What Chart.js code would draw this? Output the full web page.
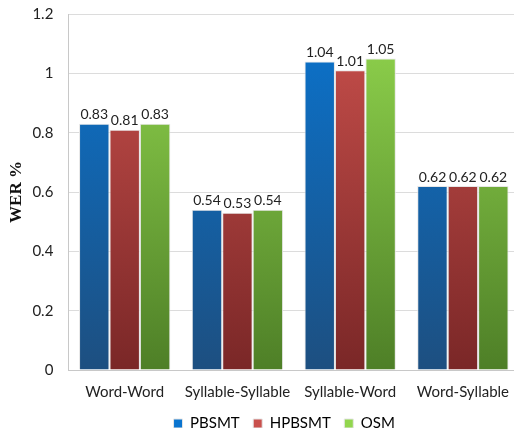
<!DOCTYPE html>
<html>
<head>
<meta charset="utf-8">
<script src="https://cdn.jsdelivr.net/npm/chart.js@4/dist/chart.umd.min.js"></script>
<style>
  html, body { margin: 0; padding: 0; background: #fff; overflow: hidden; }
  #wrap { width: 514px; height: 428px; overflow: hidden; position: relative; }
  #werChart { position: absolute; left: -7px; top: -10px; }
</style>
</head>
<body>
<div id="wrap"><canvas id="werChart" width="529" height="451"></canvas></div>
<script>
const categories = ['Word-Word', 'Syllable-Syllable', 'Syllable-Word', 'Word-Syllable'];
const pbsmt  = [0.83, 0.54, 1.04, 0.62];
const hpbsmt = [0.81, 0.53, 1.01, 0.62];
const osm    = [0.83, 0.54, 1.05, 0.62];

const FONT = 'Lato, "Open Sans", sans-serif';

// top -> bottom gradient stops, like the office-style bars
const shades = {
  blue:  ['#0a74cf', '#1d4f80'],
  red:   ['#c9504c', '#7a2727'],
  green: ['#92d64e', '#4e7f27']
};

function gradient(pair) {
  return (ctx) => {
    const { chart } = ctx;
    const area = chart.chartArea;
    if (!area) return pair[0];
    const g = chart.ctx.createLinearGradient(0, area.top, 0, area.bottom);
    g.addColorStop(0, pair[0]);
    g.addColorStop(1, pair[1]);
    return g;
  };
}

// values written above each bar
const valueLabels = {
  id: 'valueLabels',
  afterDatasetsDraw(chart) {
    const c = chart.ctx;
    c.save();
    c.font = '14px ' + FONT;
    c.fillStyle = '#222';
    c.textAlign = 'center';
    c.textBaseline = 'bottom';
    chart.data.datasets.forEach((ds, i) => {
      chart.getDatasetMeta(i).data.forEach((bar, j) => {
        c.fillText(ds.data[j].toFixed(2).replace(/0$/, '').replace(/\.$/, ''), bar.x, bar.y - 2);
      });
    });
    c.restore();
  }
};

const barOpts = { borderColor: '#e6e6e6', borderWidth: 1, categoryPercentage: 0.81, barPercentage: 1 };

new Chart(document.getElementById('werChart').getContext('2d'), {
  type: 'bar',
  data: {
    labels: categories,
    datasets: [
      { label: 'PBSMT',  data: pbsmt,  backgroundColor: gradient(shades.blue),  ...barOpts },
      { label: 'HPBSMT', data: hpbsmt, backgroundColor: gradient(shades.red),   ...barOpts },
      { label: 'OSM',    data: osm,    backgroundColor: gradient(shades.green), ...barOpts }
    ]
  },
  options: {
    responsive: false,
    animation: false,
    layout: { padding: 0 },
    plugins: {
      legend: {
        position: 'bottom',
        fullSize: false,
        labels: {
          color: '#222',
          font: { family: FONT, size: 15 },
          boxWidth: 9,
          boxHeight: 9,
          padding: 2,
          // blanks after each name stand in for the item gap; the longer tail on
          // the last entry pulls the centred legend a bit left
          generateLabels: (chart) => chart.data.datasets.map((ds, i) => ({
            text: ds.label + (i === 2 ? '     ' : '   '),
            fillStyle: [shades.blue, shades.red, shades.green][i][0],
            strokeStyle: '#e6e6e6',
            lineWidth: 1,
            datasetIndex: i
          }))
        }
      },
      tooltip: { enabled: false }
    },
    scales: {
      x: {
        grid: { display: false, drawTicks: false },
        border: { color: '#c8c8c8' },
        ticks: { color: '#222', font: { family: FONT, size: 15 }, padding: 13, maxRotation: 0, autoSkip: false }
      },
      y: {
        min: 0,
        max: 1.2,
        grid: { color: '#dcdcdc', drawTicks: false },
        border: { color: '#c8c8c8' },
        ticks: { stepSize: 0.2, color: '#222', font: { family: FONT, size: 15 }, padding: 15,
                 callback: (v) => Number(v.toFixed(1)).toString() },
        title: { display: true, text: 'WER %', color: '#111',
                 font: { family: '"Liberation Serif", serif', size: 17, weight: 'bold' }, padding: { top: 13, bottom: -9 } }
      }
    }
  },
  plugins: [valueLabels]
});
</script>
</body>
</html>
